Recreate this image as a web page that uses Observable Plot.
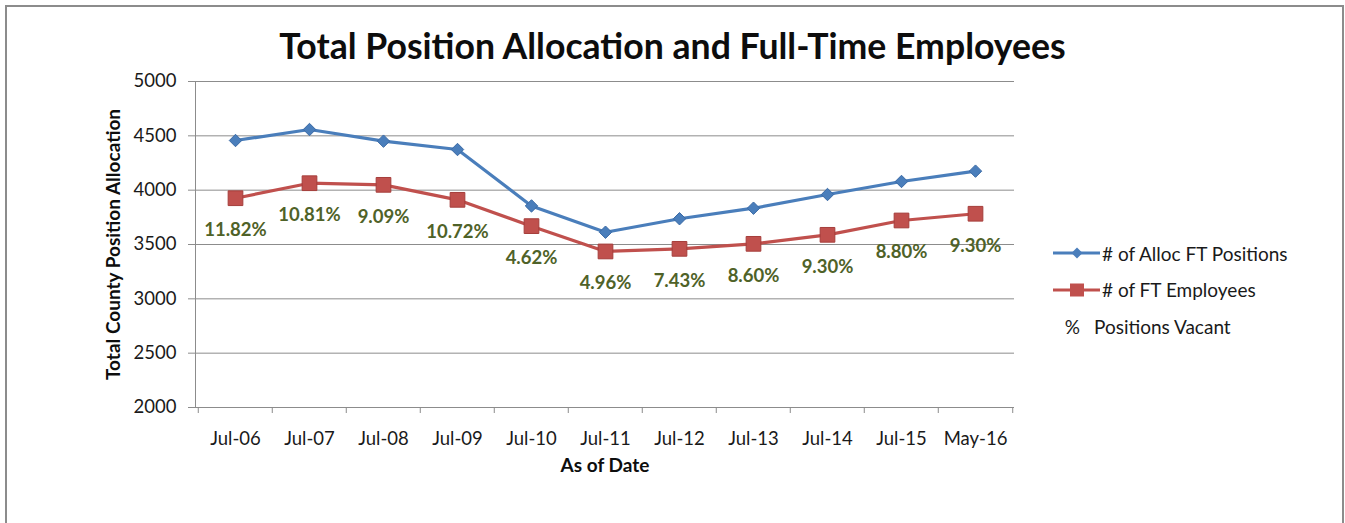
<!DOCTYPE html>
<html><head><meta charset="utf-8">
<script src="https://cdn.jsdelivr.net/npm/d3@7"></script>
<script src="https://cdn.jsdelivr.net/npm/@observablehq/plot@0.6"></script>
<style>
html,body{margin:0;padding:0;background:#fff;}
#wrap{position:relative;width:1345px;height:523px;overflow:hidden;font-family:Lato,"Open Sans",sans-serif;color:#1a1a1a;}
#border{position:absolute;left:5px;top:5px;width:1339px;height:540px;border:2px solid #8c8c8c;box-sizing:border-box;}
#title{position:absolute;left:0;width:1345px;top:0;text-align:center;font-weight:bold;white-space:nowrap;line-height:1;color:#0d0d0d;}
#chart{position:absolute;left:0;top:0;}
#legend{position:absolute;left:1053px;top:235px;font-size:19px;}
#legend .item{height:36.5px;display:flex;align-items:center;white-space:nowrap;}
#legend svg{display:block;}
</style>
</head><body>
<div id="wrap">
  <div id="border"></div>
  <div id="chart"></div>
  <div id="title"></div>
  <div id="legend"></div>
</div>
<script>
const titleText = "Total Position Allocation and Full-Time Employees";
const dates = ["Jul-06","Jul-07","Jul-08","Jul-09","Jul-10","Jul-11","Jul-12","Jul-13","Jul-14","Jul-15","May-16"];
const allocFT = [4457,4558,4451,4374,3855,3613,3737,3834,3960,4080,4175];
const ftEmployees = [3926,4064,4049,3911,3669,3436,3460,3506,3589,3721,3783];
const vacantPct = ["11.82%","10.81%","9.09%","10.72%","4.62%","4.96%","7.43%","8.60%","9.30%","8.80%","9.30%"];
const yTicks = [2000,2500,3000,3500,4000,4500,5000];
const seriesNames = ["# of Alloc FT Positions","# of FT Employees","Positions Vacant"];

const blue = "#4a7ebb", red = "#c0504d", olive = "#4f6228", gridC = "#8c8c8c";

const data = dates.map((d,i)=>({date:d, alloc:allocFT[i], emp:ftEmployees[i], pct:vacantPct[i]}));

const W = 1345, H = 523, mL = 195, mR = 331, mT = 81, mB = 116;
const bw = (W - mL - mR) / dates.length;

const plot = Plot.plot({
  width: W, height: H,
  marginLeft: mL, marginRight: mR, marginTop: mT, marginBottom: mB,
  style: {fontFamily: "Lato, sans-serif", fontSize: "18px", color: "#1a1a1a", background: "transparent", overflow: "visible"},
  x: {type: "band", domain: dates, padding: 0},
  y: {domain: [2000, 5000]},
  marks: [
    Plot.gridY(yTicks, {stroke: gridC, strokeOpacity: 1}),
    Plot.axisY(yTicks, {tickSize: 7, tickPadding: 12, tickFormat: d3.format("d"), stroke: gridC, label: null, fontSize: 18.5}),
    Plot.frame({anchor: "left", stroke: gridC}),
    Plot.ruleY([2000], {stroke: gridC}),
    Plot.axisX({tickSize: 0, tickPadding: 24, label: null, fontSize: 18.5}),
    Plot.axisX({tickSize: 6, dx: -bw/2, tickFormat: () => "", stroke: gridC, label: null}),
    Plot.axisX([dates[dates.length-1]], {tickSize: 6, dx: bw/2, tickFormat: () => "", stroke: gridC, label: null}),
    Plot.line(data, {x: "date", y: "alloc", stroke: blue, strokeWidth: 3.2}),
    Plot.line(data, {x: "date", y: "emp", stroke: red, strokeWidth: 3.2}),
    Plot.dot(data, {x: "date", y: "alloc", symbol: "diamond2", r: 5.6, fill: blue, stroke: "#3b6aa5", strokeWidth: 1}),
    Plot.dot(data, {x: "date", y: "emp", symbol: "square", r: 8.3, fill: red, stroke: "#a53e3b", strokeWidth: 1}),
    Plot.text(data, {x: "date", y: "emp", text: "pct", dy: 32, fill: olive, fontWeight: "bold", fontSize: 18.5}),
    Plot.text(["Total County Position Allocation"], {frameAnchor: "left", rotate: -90, dx: -82, textAnchor: "middle", lineAnchor: "middle", fontWeight: "bold", fontSize: 19, fill: "#0d0d0d"}),
    Plot.text(["As of Date"], {frameAnchor: "bottom", dy: 58, lineAnchor: "middle", fontWeight: "bold", fontSize: 19, fill: "#0d0d0d"})
  ]
});
document.getElementById("chart").appendChild(plot);

// title sized to match the reference width
const ctx = document.createElement("canvas").getContext("2d");
ctx.font = "bold 100px Lato";
const tw = ctx.measureText(titleText).width;
const ts = 100 * 788 / tw;
const titleEl = document.getElementById("title");
titleEl.textContent = titleText;
titleEl.style.fontSize = ts + "px";
titleEl.style.top = (59 - ts * 0.88) + "px";

// legend
const legend = document.getElementById("legend");
function sym(kind){
  const s = d3.create("svg").attr("width", 49).attr("height", 16);
  if (kind === "alloc") {
    s.append("line").attr("x1",0).attr("x2",47).attr("y1",8).attr("y2",8).attr("stroke",blue).attr("stroke-width",3);
    s.append("path").attr("d","M24,2.5 L29.5,8 L24,13.5 L18.5,8 Z").attr("fill",blue);
  } else {
    s.append("line").attr("x1",0).attr("x2",47).attr("y1",8).attr("y2",8).attr("stroke",red).attr("stroke-width",3);
    s.append("rect").attr("x",17).attr("y",1.5).attr("width",14).attr("height",13).attr("fill",red);
  }
  return s.node();
}
[["alloc",seriesNames[0]],["emp",seriesNames[1]]].forEach(([k,n])=>{
  const it = document.createElement("div"); it.className = "item";
  it.appendChild(sym(k));
  const sp = document.createElement("span"); sp.textContent = n; it.appendChild(sp);
  legend.appendChild(it);
});
const it3 = document.createElement("div"); it3.className = "item";
it3.innerHTML = '<span style="display:inline-block;width:27px;text-align:right">%</span><span style="margin-left:14px"></span>';
it3.lastChild.textContent = seriesNames[2];
legend.appendChild(it3);
</script>
</body></html>
